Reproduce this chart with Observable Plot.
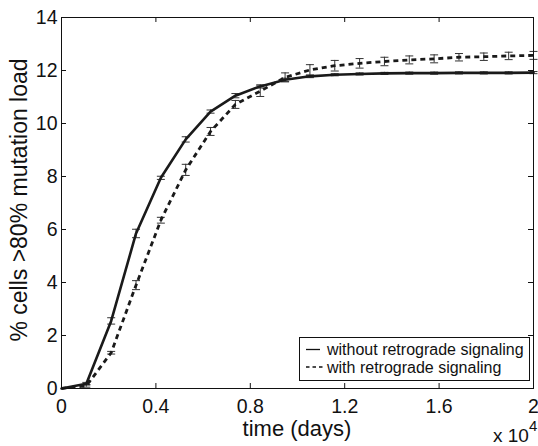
<!DOCTYPE html>
<html><head><meta charset="utf-8">
<script src="https://cdn.jsdelivr.net/npm/d3@7"></script>
<script src="https://cdn.jsdelivr.net/npm/@observablehq/plot@0.6"></script>
<style>body{margin:0;background:#fff;font-family:"Liberation Sans",Arial,sans-serif}</style>
</head><body><div id="chart"></div>
<script>
const nPoints = 20;
const xMax = 2; // ×10^4 days
const timeValues = Array.from({length: nPoints}, (_, k) => k * xMax / (nPoints - 1));
const withoutRetro = [0, 0.18, 2.55, 5.85, 7.95, 9.4, 10.45, 11.05, 11.4, 11.65, 11.78, 11.84, 11.87, 11.89, 11.9, 11.9, 11.91, 11.91, 11.91, 11.92];
const withoutErr = [0, 0.05, 0.12, 0.16, 0.06, 0.1, 0.06, 0.08, 0.06, 0.06, 0.05, 0.04, 0.04, 0.04, 0.04, 0.04, 0.04, 0.04, 0.04, 0.04];
const withRetro = [0, 0.1, 1.35, 3.9, 6.35, 8.25, 9.7, 10.72, 11.22, 11.74, 12.02, 12.18, 12.27, 12.34, 12.4, 12.44, 12.5, 12.52, 12.55, 12.57];
const withErr = [0, 0.05, 0.05, 0.17, 0.11, 0.21, 0.15, 0.15, 0.2, 0.17, 0.2, 0.2, 0.18, 0.16, 0.15, 0.15, 0.14, 0.14, 0.14, 0.15];
const xTicks = [0, 0.4, 0.8, 1.2, 1.6, 2];
const yTicks = [0, 2, 4, 6, 8, 10, 12, 14];
const seriesNames = ["without retrograde signaling", "with retrograde signaling"];

const rows = [];
timeValues.forEach((t, i) => {
  rows.push({x: t, y: withoutRetro[i], e: withoutErr[i], s: seriesNames[0]});
  rows.push({x: t, y: withRetro[i], e: withErr[i], s: seriesNames[1]});
});
const solid = rows.filter(d => d.s === seriesNames[0]);
const dashed = rows.filter(d => d.s === seriesNames[1]);

const W = 538, H = 446, mL = 61, mR = 5, mT = 17, mB = 58;
const pw = W - mL - mR, ph = H - mT - mB, tl = 5;
const capSymbol = {draw(ctx, size) { const r = Math.sqrt(size / Math.PI); ctx.moveTo(-r, 0); ctx.lineTo(r, 0); }};
const errRows = rows.filter(d => d.e > 0);
const FONT = "'Liberation Sans', Arial, sans-serif";

const plot = Plot.plot({
  width: W, height: H,
  marginLeft: mL, marginRight: mR, marginTop: mT, marginBottom: mB,
  style: {fontFamily: FONT, background: "#fff", overflow: "visible"},
  x: {domain: [0, xMax]},
  y: {domain: [0, 14]},
  marks: [
    Plot.axisX(xTicks, {tickSize: 0, tickPadding: 11, fontSize: 19.5, fill: "#111", tickFormat: d => String(d), label: null}),
    Plot.axisY(yTicks, {tickSize: 0, tickPadding: 4, fontSize: 19.5, fill: "#111", label: null}),
    Plot.tickX(xTicks, {x: d => d, insetTop: ph - tl, stroke: "#111"}),
    Plot.tickX(xTicks, {x: d => d, insetBottom: ph - tl, stroke: "#111"}),
    Plot.tickY(yTicks, {y: d => d, insetRight: pw - tl, stroke: "#111"}),
    Plot.tickY(yTicks, {y: d => d, insetLeft: pw - tl, stroke: "#111"}),
    Plot.ruleX(errRows, {x: "x", y1: d => d.y - d.e, y2: d => d.y + d.e, stroke: "#333", strokeWidth: 1}),
    Plot.dot(errRows, {x: "x", y: d => d.y - d.e, symbol: capSymbol, r: 4, stroke: "#333", strokeWidth: 1, fill: "none"}),
    Plot.dot(errRows, {x: "x", y: d => d.y + d.e, symbol: capSymbol, r: 4, stroke: "#333", strokeWidth: 1, fill: "none"}),
    Plot.line(solid, {x: "x", y: "y", stroke: "#1a1a1a", strokeWidth: 2.6}),
    Plot.line(dashed, {x: "x", y: "y", stroke: "#1a1a1a", strokeWidth: 2.8, strokeDasharray: "5,4", strokeLinecap: "butt"}),
    Plot.frame({stroke: "#111", strokeWidth: 1})
  ]
});
document.getElementById("chart").appendChild(plot);

const svg = d3.select(plot);
// axis titles
svg.append("text").attr("x", mL + pw / 2).attr("y", 436).attr("text-anchor", "middle")
  .attr("font-family", FONT).attr("font-size", 22).attr("fill", "#111").text("time (days)");
svg.append("text").attr("transform", `translate(27,200) rotate(-90)`).attr("text-anchor", "middle")
  .attr("font-family", FONT).attr("font-size", 23).attr("fill", "#111").text("% cells >80% mutation load");
const ex = svg.append("text").attr("x", 493).attr("y", 442).attr("text-anchor", "start")
  .attr("font-family", FONT).attr("font-size", 19).attr("fill", "#111");
ex.append("tspan").text("x 10");
ex.append("tspan").attr("dy", -11).attr("font-size", 15).text("4");

// legend
const lg = svg.append("g").attr("font-family", FONT).attr("font-size", 16).attr("fill", "#111").attr("text-anchor", "start");
lg.append("rect").attr("x", 299.5).attr("y", 337.5).attr("width", 230).attr("height", 43)
  .attr("fill", "#fff").attr("stroke", "#111").attr("stroke-width", 1);
seriesNames.forEach((name, i) => {
  const yy = 349.5 + i * 17.5;
  lg.append("line").attr("x1", 306).attr("x2", i ? 323 : 320).attr("y1", yy).attr("y2", yy)
    .attr("stroke", "#111").attr("stroke-width", 1.3).attr("stroke-dasharray", i ? "3.5,3" : null);
  lg.append("text").attr("x", 327).attr("y", yy + 5.5).text(name);
});
</script></body></html>
